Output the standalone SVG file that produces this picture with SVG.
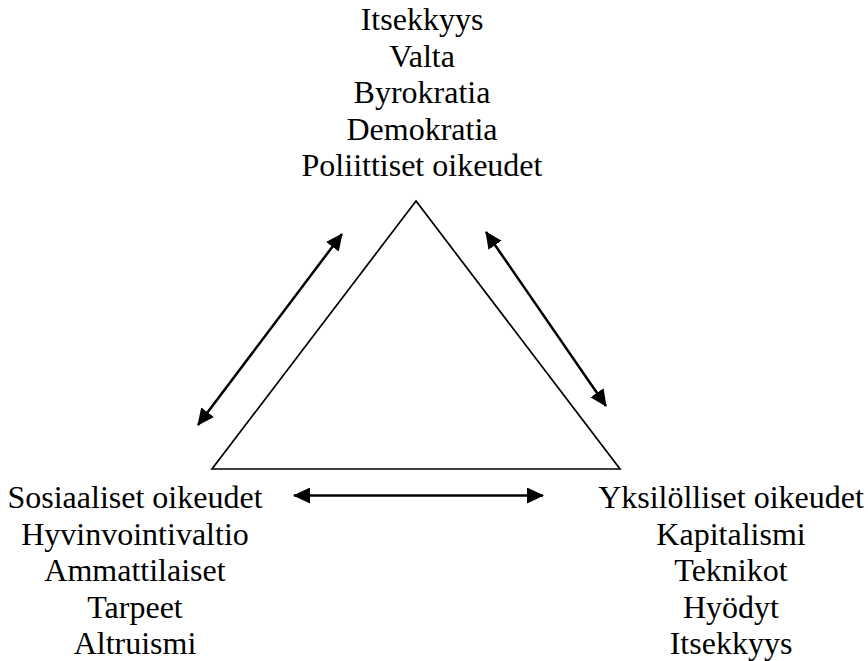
<svg xmlns="http://www.w3.org/2000/svg" width="868" height="661" viewBox="0 0 868 661">
<defs>
<style>
text{font-family:"Liberation Serif","Times New Roman",serif;font-size:32px;fill:#000;text-anchor:middle}
.conn{stroke:#000;stroke-width:2.5;fill:none}
</style>
<marker id="ah" viewBox="0 0 17 16" refX="16" refY="8" markerWidth="17" markerHeight="16" markerUnits="userSpaceOnUse" orient="auto-start-reverse">
<path d="M0,0 L17,8 L0,16 Z" fill="#000"/>
</marker>
</defs>
<rect width="868" height="661" fill="#fff"/>
<g id="triangle">
<polygon points="416,201 212,469 620,469" fill="none" stroke="#000" stroke-width="1.7"/>
</g>
<g id="node-top">
<text x="422" y="30">Itsekkyys</text>
<text x="422" y="66.6">Valta</text>
<text x="422" y="103.2">Byrokratia</text>
<text x="422" y="139.8">Demokratia</text>
<text x="422" y="176.4">Poliittiset oikeudet</text>
</g>
<g id="node-left">
<text x="135" y="508">Sosiaaliset oikeudet</text>
<text x="135" y="544.6">Hyvinvointivaltio</text>
<text x="135" y="581.2">Ammattilaiset</text>
<text x="135" y="617.8">Tarpeet</text>
<text x="135" y="654.4">Altruismi</text>
</g>
<g id="node-right">
<text x="731" y="508">Yksilölliset oikeudet</text>
<text x="731" y="544.6">Kapitalismi</text>
<text x="731" y="581.2">Teknikot</text>
<text x="731" y="617.8">Hyödyt</text>
<text x="731" y="654.4">Itsekkyys</text>
</g>
<g id="connectors">
<line class="conn" x1="198" y1="425" x2="342" y2="234" marker-start="url(#ah)" marker-end="url(#ah)"/>
<line class="conn" x1="486" y1="232" x2="606" y2="406" marker-start="url(#ah)" marker-end="url(#ah)"/>
<line class="conn" x1="294" y1="495.5" x2="543" y2="495.5" marker-start="url(#ah)" marker-end="url(#ah)"/>
</g>
</svg>
